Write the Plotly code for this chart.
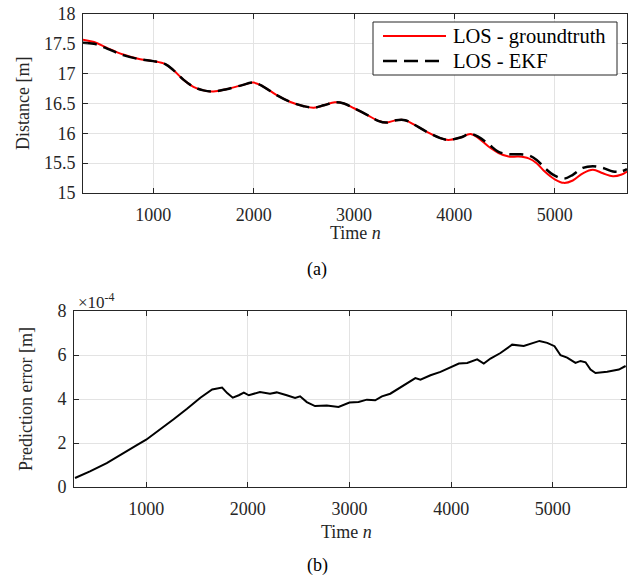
import plotly.graph_objects as go
from plotly.subplots import make_subplots

# (a) line-of-sight distance [m]
time_a = [300, 410, 540, 700, 870, 1000, 1120, 1200, 1300, 1400, 1500, 1600, 1730, 1870,
          2000, 2100, 2230, 2360, 2500, 2600, 2700, 2810, 2900, 3000, 3130, 3240, 3320,
          3420, 3510, 3590, 3720, 3860, 3940, 4060, 4160, 4240, 4340, 4440, 4540, 4640,
          4740, 4820, 4900, 5000, 5090, 5180, 5280, 5380, 5480, 5580, 5660, 5720]
los_truth = [17.57, 17.53, 17.43, 17.32, 17.24, 17.21, 17.16, 17.06, 16.90, 16.78, 16.72,
             16.70, 16.74, 16.80, 16.85, 16.78, 16.64, 16.53, 16.455, 16.43, 16.47, 16.52,
             16.50, 16.42, 16.31, 16.21, 16.18, 16.22, 16.22, 16.155, 16.03, 15.92, 15.89,
             15.93, 15.99, 15.92, 15.78, 15.67, 15.61, 15.61, 15.58, 15.50, 15.36, 15.23,
             15.17, 15.21, 15.33, 15.39, 15.33, 15.28, 15.305, 15.36]
los_ekf = [17.52, 17.50, 17.42, 17.31, 17.24, 17.21, 17.16, 17.06, 16.90, 16.78, 16.72,
           16.70, 16.74, 16.80, 16.85, 16.78, 16.64, 16.53, 16.455, 16.43, 16.47, 16.52,
           16.50, 16.42, 16.31, 16.21, 16.18, 16.22, 16.22, 16.155, 16.03, 15.92, 15.89,
           15.93, 15.99, 15.94, 15.82, 15.69, 15.65, 15.65, 15.63, 15.555, 15.42, 15.29,
           15.24, 15.305, 15.42, 15.45, 15.42, 15.36, 15.36, 15.40]

# (b) prediction error, in units of 1e-4 m
time_b = [300, 447, 612, 776, 908, 1000, 1138, 1270, 1402, 1533, 1649, 1747, 1797, 1852,
          1911, 1961, 2010, 2060, 2119, 2218, 2284, 2383, 2465, 2514, 2580, 2661, 2777,
          2892, 3000, 3089, 3171, 3253, 3319, 3401, 3500, 3582, 3648, 3698, 3797, 3895,
          3994, 4076, 4158, 4256, 4321, 4387, 4485, 4600, 4714, 4780, 4869, 4945, 5017,
          5076, 5141, 5223, 5273, 5322, 5371, 5420, 5535, 5650, 5716]
pred_error = [0.41, 0.71, 1.09, 1.52, 1.90, 2.15, 2.61, 3.08, 3.56, 4.06, 4.43, 4.52, 4.27,
              4.06, 4.17, 4.29, 4.17, 4.25, 4.32, 4.24, 4.30, 4.17, 4.05, 4.12, 3.86, 3.68,
              3.70, 3.64, 3.84, 3.86, 3.97, 3.94, 4.12, 4.24, 4.52, 4.73, 4.95, 4.88, 5.08,
              5.23, 5.45, 5.61, 5.64, 5.80, 5.61, 5.84, 6.09, 6.47, 6.41, 6.52, 6.64, 6.55,
              6.40, 5.99, 5.88, 5.64, 5.73, 5.67, 5.34, 5.18, 5.24, 5.34, 5.50]

legend_names = ["LOS - groundtruth", "LOS - EKF"]

FONT = "Times New Roman, Liberation Serif, DejaVu Serif, serif"
INK = "#262626"
W, H = 633, 580
EKF_DASH = "14px,7px"


def fx(p):
    return p / W


def fy(p):
    return 1 - p / H


fig = make_subplots(rows=2, cols=1)

fig.add_trace(go.Scatter(x=time_a, y=los_truth, mode="lines", name=legend_names[0],
                         showlegend=False, line=dict(color="red", width=2, shape="spline")),
              row=1, col=1)
fig.add_trace(go.Scatter(x=time_a, y=los_ekf, mode="lines", name=legend_names[1],
                         showlegend=False,
                         line=dict(color="black", width=2.5, dash=EKF_DASH, shape="spline")),
              row=1, col=1)
fig.add_trace(go.Scatter(x=time_b, y=pred_error, mode="lines", showlegend=False,
                         line=dict(color="black", width=2)), row=2, col=1)

axis_style = dict(showline=True, mirror="ticks", linecolor=INK, linewidth=1,
                  ticks="inside", ticklen=5, tickcolor=INK, showgrid=True,
                  gridcolor="#e3e3e3", gridwidth=1, zeroline=False, automargin=False,
                  tickfont=dict(family=FONT, size=18, color=INK))

fig.update_xaxes(axis_style, ticklabelstandoff=5)
fig.update_yaxes(axis_style, ticklabelstandoff=3)

fig.update_xaxes(range=[300, 5720], tickvals=[1000, 2000, 3000, 4000, 5000],
                 domain=[fx(83), fx(627)], row=1, col=1)
fig.update_xaxes(range=[290, 5720], tickvals=[1000, 2000, 3000, 4000, 5000],
                 domain=[fx(74), fx(626)], row=2, col=1)
fig.update_yaxes(range=[15, 18], dtick=0.5, domain=[fy(193), fy(14)], row=1, col=1)
fig.update_yaxes(range=[0, 8], dtick=2, domain=[fy(487), fy(311)], row=2, col=1)


def label(text, x, y, size=18, angle=0, color=INK, anchor="center"):
    return dict(text=text, x=fx(x), y=fy(y), xref="paper", yref="paper", showarrow=False,
                textangle=angle, xanchor=anchor, yanchor="middle",
                font=dict(family=FONT, size=size, color=color))


def pline(x0, x1, y, color, width, dash="solid"):
    return dict(type="line", xref="paper", yref="paper", x0=fx(x0), x1=fx(x1),
                y0=fy(y), y1=fy(y), layer="above",
                line=dict(color=color, width=width, dash=dash))


# legend box drawn by hand so its size matches the MATLAB one
legend_shapes = [
    dict(type="rect", xref="paper", yref="paper", x0=fx(373), x1=fx(617), y0=fy(75),
         y1=fy(22), fillcolor="white", line=dict(color=INK, width=1), layer="above"),
    pline(383, 446, 36, "red", 2),
    pline(383, 446, 61, "black", 2.5, EKF_DASH),
]

fig.update_layout(
    width=W, height=H,
    margin=dict(l=0, r=0, t=0, b=0),
    plot_bgcolor="white", paper_bgcolor="white",
    font=dict(family=FONT, size=18, color=INK),
    shapes=legend_shapes,
    annotations=[
        label(legend_names[0], 451, 36, size=20.5, color="black", anchor="left"),
        label(legend_names[1], 451, 61, size=20.5, color="black", anchor="left"),
        label("Time <i>n</i>", 355, 233),
        label("Time <i>n</i>", 346, 532),
        label("Distance [m]", 23, 104, angle=-90),
        label("Prediction error [m]", 26, 399, angle=-90),
        label("(a)", 317, 270, color="black"),
        label("(b)", 317, 565, color="black"),
        label("×10<sup>-4</sup>", 76, 301, size=17, anchor="left"),
    ],
)

fig.write_html("out.html", config={"displayModeBar": False},
               post_script="document.body.style.margin = '0';")
